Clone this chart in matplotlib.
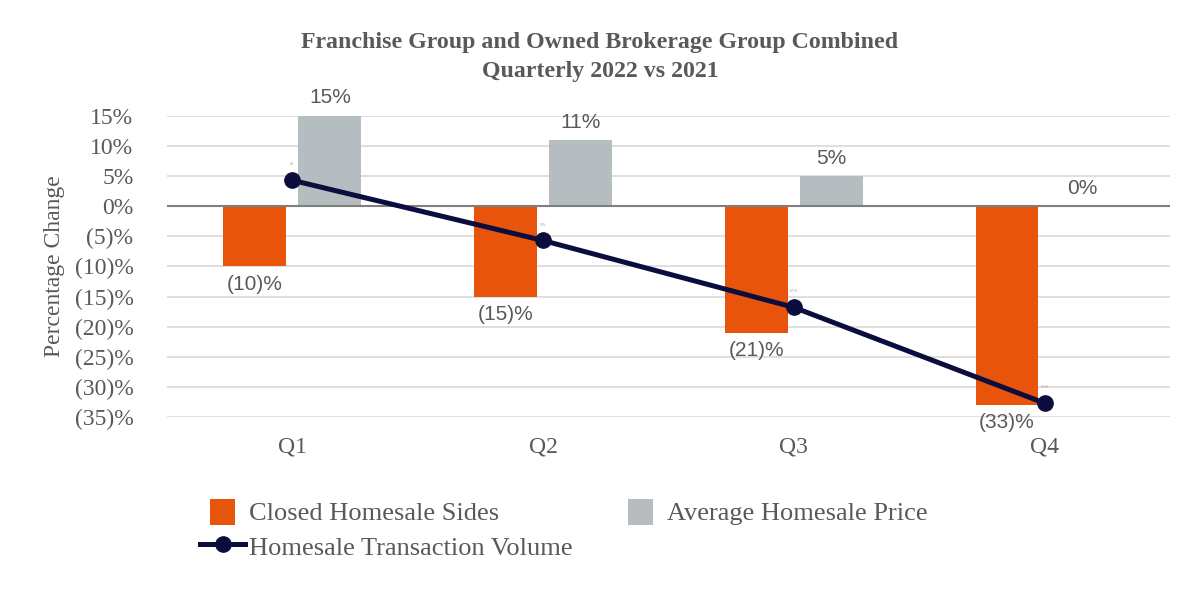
import numpy as np
import matplotlib.pyplot as plt
from matplotlib.legend_handler import HandlerPatch
from matplotlib.patches import Rectangle

quarters = ["Q1", "Q2", "Q3", "Q4"]
closed_sides = [-10, -15, -21, -33]
avg_price = [15, 11, 5, 0]
txn_volume = [4.3, -5.7, -16.8, -32.7]
txn_labels = ["4%", "(6)%", "(17)%", "(33)%"]
yticks = [15, 10, 5, 0, -5, -10, -15, -20, -25, -30, -35]


def pct(v):
    v = int(round(v))
    return f"{v}%" if v >= 0 else f"({-v})%"


def square_key(legend, orig_handle, xdescent, ydescent, width, height, fontsize):
    # square key centred in the (longer) handle box, like Excel draws it
    s = height * 1.1
    return Rectangle((xdescent + (width - s) / 2, ydescent - 0.3 * height), s, s)


def first_child(handle, orig):
    handle.update_from(orig.patches[0])


serif = "Liberation Serif"
sans = "Liberation Sans"
txt_gray = "#595959"
orange = "#E8540C"
silver = "#B5BDC0"
navy = "#0C0D3F"

fig = plt.figure(figsize=(12, 6), dpi=100)
ax = fig.add_axes([0.139, 0.305, 0.836, 0.502])

x = np.arange(len(quarters))
w = 0.25
b1 = ax.bar(x - 0.15, closed_sides, w, color=orange, zorder=2, label="Closed Homesale Sides")
b2 = ax.bar(x + 0.15, avg_price, w, color=silver, zorder=2, label="Average Homesale Price")
ln, = ax.plot(x, txn_volume, color=navy, lw=3.6, marker="o", ms=11, zorder=4,
              label="Homesale Transaction Volume")

for rect, v in zip(b1, closed_sides):
    ax.annotate(pct(v), (rect.get_x() + rect.get_width() / 2, v), xytext=(0, -6),
                textcoords="offset points", ha="center", va="top",
                fontsize=15, color=txt_gray, family=sans, zorder=5)
for rect, v in zip(b2, avg_price):
    ax.annotate(pct(v), (rect.get_x() + rect.get_width() / 2, v), xytext=(0, 6),
                textcoords="offset points", ha="center", va="bottom",
                fontsize=15, color=txt_gray, family=sans, zorder=5)
# tiny line labels as in the source
for xi, v, t in zip(x, txn_volume, txn_labels):
    ax.annotate(t, (xi, v), xytext=(0, 10), textcoords="offset points",
                ha="center", va="bottom", fontsize=2, color="#999999")

ax.set_xlim(-0.5, 3.5)
ax.set_ylim(-35, 15)
ax.set_yticks(yticks)
ax.set_yticklabels([pct(v) for v in yticks], family=serif, fontsize=17, color=txt_gray)
ax.set_xticks(x)
ax.set_xticklabels(quarters, family=serif, fontsize=17, color=txt_gray)
ax.tick_params(axis="y", length=0, pad=24)
ax.tick_params(axis="x", length=0, pad=14)
ax.grid(axis="y", color="#D9D9D9", lw=1.2, zorder=0)
ax.axhline(0, color="#7F7F7F", lw=1.5, zorder=3)
for s in ax.spines.values():
    s.set_visible(False)
ax.set_ylabel("Percentage Change", family=serif, fontsize=17, color=txt_gray, labelpad=7)

fig.suptitle("Franchise Group and Owned Brokerage Group Combined\nQuarterly 2022 vs 2021",
             x=0.5, y=0.947, family=serif, fontsize=17.2, fontweight="bold",
             color=txt_gray, linespacing=1.5)

sq = HandlerPatch(patch_func=square_key, update_func=first_child)
fig.legend(handles=[b1, ln, b2], loc="upper left", bbox_to_anchor=(0.158, 0.185),
           ncol=2, frameon=False, prop={"family": serif, "size": 19},
           labelcolor=txt_gray, columnspacing=1.72, handlelength=1.7,
           handleheight=0.95, handletextpad=0.15, borderaxespad=0, labelspacing=0.35,
           handler_map={b1: sq, b2: sq})

fig.savefig("out.png", dpi=100)
